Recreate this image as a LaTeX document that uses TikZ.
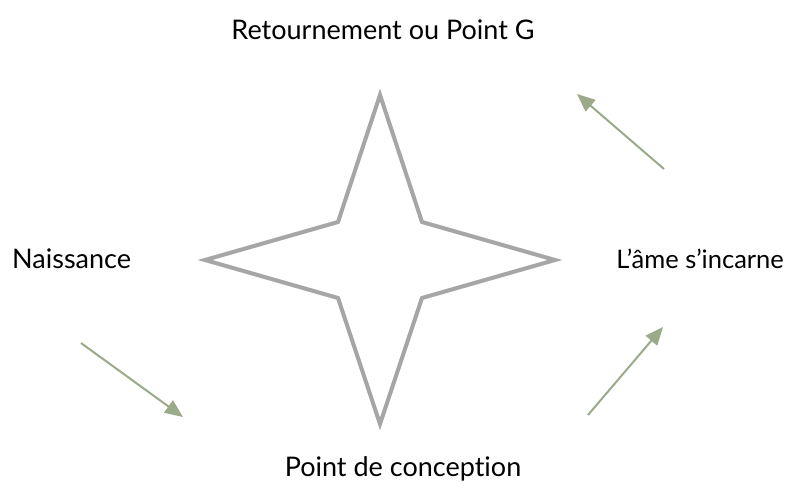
\documentclass[tikz,border=0pt]{standalone}
\usepackage{fontspec}
\setmainfont{Lato}[RawFeature={-liga;-dlig;-clig}]
\usetikzlibrary{arrows.meta}
\definecolor{stargray}{HTML}{A6A6A6}
\definecolor{arrowgreen}{HTML}{9BAA89}
\tikzset{
  lbl/.style={font=\fontsize{27}{30}\selectfont, text=black, inner sep=0pt},
  cyclearrow/.style={draw=arrowgreen, line width=2pt, -{Triangle[length=18pt,width=15pt]}},
  starline/.style={draw=stargray, line width=4pt, line join=miter, fill=white}
}
\begin{document}
\begin{tikzpicture}[x=1pt,y=-1pt]
\useasboundingbox (0,0) rectangle (794,489);
\fill[white] (0,0) rectangle (794,489);
% star
\draw[starline] (380,95) -- (422,222) -- (555,260) -- (422,298) -- (380,424) -- (338,298) -- (205,260) -- (338,222) -- cycle;
% labels
\node[lbl] (top) at (383,30) {Retournement ou Point G};
\node[lbl, anchor=west] (left) at (12,259) {Naissance};
\node[lbl, anchor=east, font=\fontsize{25.5}{28}\selectfont] (right) at (784,259) {L’âme s’incarne};
\node[lbl] (bottom) at (403,469) {Point de conception};
% arrows
\coordinate (a1s) at (81,343);
\coordinate (a1e) at (183,417);
\coordinate (a2s) at (588,415);
\coordinate (a2e) at (663,327);
\coordinate (a3s) at (664,169);
\coordinate (a3e) at (577,94);
\draw[cyclearrow] (a1s) -- (a1e);
\draw[cyclearrow] (a2s) -- (a2e);
\draw[cyclearrow] (a3s) -- (a3e);
\end{tikzpicture}
\end{document}
